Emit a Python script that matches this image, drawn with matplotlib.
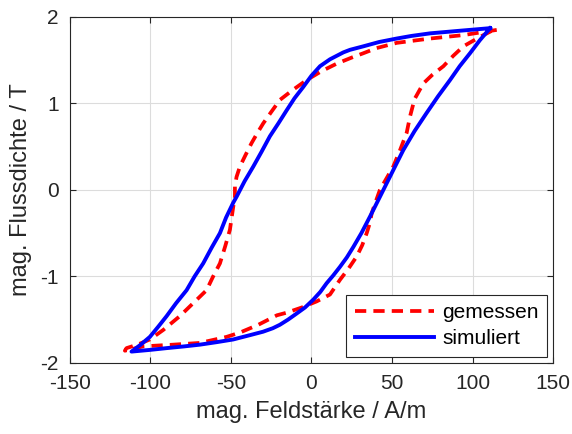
import matplotlib
matplotlib.use('Agg')
import matplotlib.pyplot as plt

plt.rcParams['font.family'] = ['Liberation Sans', 'DejaVu Sans']
plt.rcParams['axes.unicode_minus'] = False

# Measured loop: descending branch, then ascending branch (H in A/m, B in T)
h_meas = [115, 104.7, 94.3, 73.6, 52.9, 40.5, 32.2, 25, 15.7, 6, -2.97, -12, -19.6, -25,
          -29.9, -33.5, -37.2, -41, -44.4, -46.5, -47.5, -47.5, -48.5, -49.6, -50.6, -53.5,
          -56.8, -61, -65.1, -73.4, -81.7, -92.0, -100.3, -108, -114.8, -115.8,
          -104.5, -85.8, -69.3, -52.7, -44.4, -33, -21.4, -15.4, -6, 3.2, 11.5, 17.7, 23,
          28.1, 31.5, 34.3, 36.3, 37.4, 40, 42.5, 46.5, 50.8, 55, 59.1, 61.2, 64, 69.4, 75,
          81.9, 88, 94.3, 104.7, 112, 115]
b_meas = [1.85, 1.82, 1.79, 1.75, 1.70, 1.64, 1.58, 1.53, 1.46, 1.37, 1.27, 1.15, 1.04, 0.90,
          0.77, 0.66, 0.54, 0.40, 0.27, 0.15, 0.04, -0.08, -0.19, -0.33, -0.46, -0.65,
          -0.85, -1.00, -1.16, -1.31, -1.46, -1.62, -1.73, -1.79, -1.83, -1.86,
          -1.81, -1.79, -1.77, -1.70, -1.65, -1.56, -1.45, -1.42, -1.36, -1.29, -1.21, -1.04, -0.91,
          -0.77, -0.64, -0.50, -0.38, -0.27, -0.13, 0.0, 0.13, 0.27, 0.46, 0.66, 0.85, 1.05, 1.23, 1.33,
          1.43, 1.55, 1.66, 1.77, 1.84, 1.85]

# Simulated loop
h_sim = [110.9, 92, 73.6, 62, 52.9, 42, 32.2, 24, 19.8, 11.5, 5.3, 0, -5.1, -10.5, -15.4,
         -20.5, -25.8, -31, -36.1, -41.5, -46.5, -48.6, -53, -56.8, -62, -67.2, -72.5, -77.5,
         -84, -89.9, -95, -100.3, -106, -111.7,
         -100, -89.9, -79, -69.3, -58.5, -48.6, -38.2, -30, -24, -19.6, -14.5, -9.2, -4,
         1.1, 5.5, 9.4, 13.5, 17.7, 22, 26.0, 31, 36.3, 42.5, 50, 57.0, 64, 71.5, 78.5, 86.0,
         92, 98.4, 104.5, 110.9]
b_sim = [1.87, 1.84, 1.81, 1.78, 1.75, 1.71, 1.66, 1.62, 1.59, 1.51, 1.43, 1.32, 1.19, 1.06, 0.92,
         0.77, 0.62, 0.44, 0.27, 0.10, -0.08, -0.15, -0.32, -0.50, -0.67, -0.85, -1.00, -1.16,
         -1.31, -1.46, -1.58, -1.70, -1.79, -1.87,
         -1.85, -1.83, -1.81, -1.79, -1.76, -1.73, -1.68, -1.64, -1.60, -1.56, -1.50, -1.43, -1.36,
         -1.27, -1.18, -1.08, -0.99, -0.89, -0.78, -0.66, -0.50, -0.31, -0.08, 0.20, 0.46, 0.68, 0.89,
         1.08, 1.27, 1.43, 1.58, 1.73, 1.87]

fig, ax = plt.subplots(figsize=(5.72, 4.34), dpi=100)
fig.subplots_adjust(left=0.122, right=0.967, top=0.961, bottom=0.164)

ax.plot(h_meas, b_meas, color='#ff0000', linestyle=(0, (3, 1.9)), linewidth=2.7,
        solid_joinstyle='round', dash_joinstyle='round', label='gemessen')
ax.plot(h_sim, b_sim, color='#0000ff', linewidth=2.8, solid_joinstyle='round',
        label='simuliert')

ax.set_xlim(-150, 150)
ax.set_ylim(-2, 2)
ax.set_xticks([-150, -100, -50, 0, 50, 100, 150])
ax.set_yticks([-2, -1, 0, 1, 2])
ax.grid(True, color='#dcdcdc', linewidth=0.8)
ax.set_axisbelow(True)
ax.tick_params(direction='in', top=True, right=True, labelsize=15, colors='#262626',
               length=4, pad=8)
for s in ax.spines.values():
    s.set_color('#262626')
    s.set_linewidth(0.8)

ax.set_xlabel('mag. Feldstärke / A/m', fontsize=17, color='#262626', labelpad=6)
ax.set_ylabel('mag. Flussdichte / T', fontsize=17, color='#262626', labelpad=6)

leg = ax.legend(loc='lower right', fontsize=15, fancybox=False, framealpha=1,
                edgecolor='#262626', handlelength=3.8, handletextpad=0.4,
                labelspacing=0.35, borderaxespad=0.3, borderpad=0.4)
leg.get_frame().set_linewidth(0.8)

fig.savefig('out.png')
